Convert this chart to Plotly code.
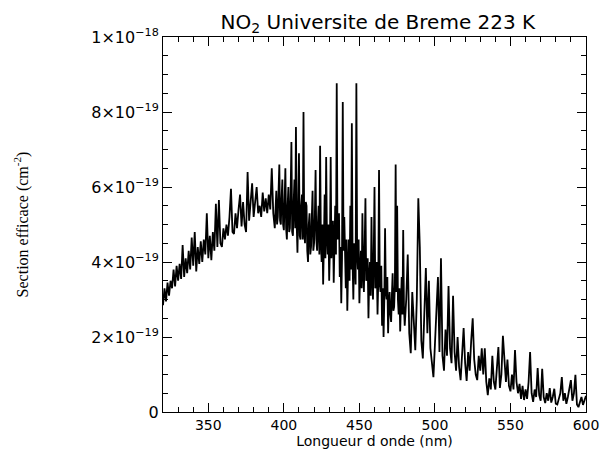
import plotly.graph_objects as go

# Sampling grid (nm): 1 nm steps, 0.5 nm steps across the dense band region 395-480 nm
wavelength = list(range(320, 395)) + [395 + 0.5 * i for i in range(170)] + list(range(480, 601))

# NO2 cross-section in units of 1e-19 cm^2
cross_section = [
    # 320-394
    2.85, 3.3, 2.95, 3.45, 3.1, 3.5, 3.3, 3.8, 3.35, 3.9,
    3.5, 3.95, 3.55, 4.45, 3.6, 4.1, 3.7, 4.3, 3.8, 4.65,
    3.9, 4.8, 3.75, 4.4, 3.95, 4.55, 4.0, 4.6, 4.2, 5.3,
    4.1, 4.7, 4.05, 4.8, 4.3, 5.55, 4.4, 5.65, 4.5, 4.4,
    4.9, 4.6, 5.0, 4.7, 5.2, 5.95, 4.8, 4.75, 5.3, 4.9,
    5.4, 5.8, 4.95, 5.6, 5.0, 4.8, 6.4, 5.1, 5.6, 6.1,
    5.2, 5.7, 6.0, 5.3, 5.5, 5.2, 5.85, 5.35, 5.7, 5.3,
    5.8, 5.4, 6.5, 5.3, 4.9,
    # 395-479.5 (0.5 nm)
    5.9, 5.0, 5.2, 5.8, 6.6, 5.1, 5.0, 5.7, 6.2, 5.0,
    4.85, 5.6, 6.5, 4.9, 4.6, 5.5, 6.0, 4.8, 4.9, 5.9,
    7.2, 4.8, 4.7, 5.6, 6.2, 4.9, 7.6, 5.0, 4.25, 5.4,
    6.9, 4.7, 4.6, 5.5, 5.8, 4.6, 8.0, 4.8, 4.5, 5.6,
    5.5, 4.3, 4.0, 5.0, 5.3, 4.2, 4.4, 5.2, 5.9, 4.3,
    4.5, 5.2, 6.45, 4.6, 4.3, 5.0, 5.5, 4.2, 7.1, 4.6,
    4.0, 5.0, 3.4, 4.5, 5.8, 4.1, 6.8, 4.7, 4.2, 5.0,
    3.5, 4.4, 6.8, 4.1, 4.5, 5.1, 3.45, 4.4, 5.5, 4.2,
    8.77, 4.6, 4.9, 5.3, 3.6, 4.4, 2.9, 4.1, 8.27, 4.3,
    5.2, 3.9, 3.3, 4.6, 2.7, 3.8, 4.6, 3.5, 5.5, 3.8,
    7.7, 4.0, 3.0, 4.5, 4.2, 3.4, 8.77, 4.2, 3.8, 4.6,
    2.9, 3.7, 4.3, 3.3, 5.3, 3.8, 3.2, 4.4, 5.7, 3.5,
    3.6, 4.1, 2.5, 3.6, 4.0, 3.1, 5.2, 3.6, 3.0, 4.2,
    6.0, 3.3, 3.4, 4.0, 2.6, 3.5, 6.45, 3.4, 3.2, 3.9,
    2.3, 3.3, 2.0, 3.0, 4.9, 3.2, 3.0, 3.6, 2.1, 2.9,
    3.2, 2.6, 2.4, 3.1, 3.7, 2.7, 2.8, 3.4, 6.6, 3.2,
    5.5, 3.0, 2.6, 3.3, 2.15, 2.9, 3.6, 2.6, 4.85, 2.8,
    # 480-600
    2.3, 3.0, 4.2, 2.1, 1.57, 3.2, 2.2, 1.65, 3.0, 5.7,
    4.4, 1.9, 1.43, 2.8, 3.84, 2.1, 3.5, 1.7, 1.3, 0.93,
    1.8, 2.6, 3.6, 1.6, 4.1, 1.5, 1.1, 2.2, 1.5, 3.36,
    1.7, 1.3, 3.1, 1.6, 1.1, 2.0, 1.2, 0.85, 1.6, 2.24,
    1.3, 0.83, 1.6, 1.1, 1.9, 2.5, 1.4, 1.0, 0.85, 1.5,
    1.1, 1.7, 1.0, 1.7, 0.8, 0.45, 0.9, 0.6, 1.5, 0.8,
    0.6, 1.2, 1.73, 0.64, 1.0, 2.03, 1.4, 0.8, 1.4, 0.7,
    0.55, 1.0, 0.6, 1.65, 0.8, 0.5, 0.75, 0.35, 0.7, 0.32,
    0.6, 0.35, 0.8, 1.6, 0.5, 0.27, 0.6, 0.4, 1.17, 0.45,
    0.3, 1.15, 0.4, 0.24, 0.5, 0.3, 0.64, 0.25, 0.4, 0.62,
    0.22, 0.2, 0.35, 0.5, 0.93, 0.3, 0.5, 0.22, 0.4, 0.6,
    0.85, 0.3, 0.5, 0.99, 0.2, 0.13, 0.3, 0.4, 0.19, 0.35,
    0.43,
]

x_ticks = [350, 400, 450, 500, 550, 600]
y_ticks = [0, 2, 4, 6, 8, 10]
y_tick_labels = ["0", "2×10<sup>−19</sup>", "4×10<sup>−19</sup>", "6×10<sup>−19</sup>",
                 "8×10<sup>−19</sup>", "1×10<sup>−18</sup>"]

sans = "DejaVu Sans"

fig = go.Figure()
fig.add_trace(go.Scatter(x=wavelength, y=cross_section, mode="lines",
                         line=dict(color="black", width=1.8), showlegend=False))

axis_common = dict(showline=True, linecolor="black", linewidth=1, mirror="ticks",
                   ticks="inside", tickcolor="black", showgrid=False, zeroline=False,
                   automargin=False)

fig.update_xaxes(range=[320, 600], tickvals=x_ticks, ticklen=9,
                 tickfont=dict(family=sans, size=14, color="black"),
                 minor=dict(dtick=10, ticks="inside", ticklen=5, tickcolor="black"),
                 title=dict(text="Longueur d onde (nm)", standoff=3,
                            font=dict(family=sans, size=14, color="black")),
                 **axis_common)
fig.update_yaxes(range=[0, 10], tickvals=y_ticks, ticktext=y_tick_labels, ticklen=9,
                 tickfont=dict(family=sans, size=16, color="black"),
                 minor=dict(dtick=0.5, ticks="inside", ticklen=5, tickcolor="black"),
                 title=dict(text="Section efficace (cm<sup>-2</sup>)", standoff=58,
                            font=dict(family="Liberation Serif", size=16, color="black")),
                 **axis_common)

fig.update_layout(
    width=604, height=451,
    margin=dict(l=163, r=18, t=37, b=39),
    paper_bgcolor="white", plot_bgcolor="white",
    title=dict(text="NO<sub>2</sub> Universite de Breme 223 K", x=0.508, xref="paper",
               xanchor="center", y=0.952, yanchor="middle",
               font=dict(family=sans, size=20, color="black")),
)

fig.write_html("out.html")
